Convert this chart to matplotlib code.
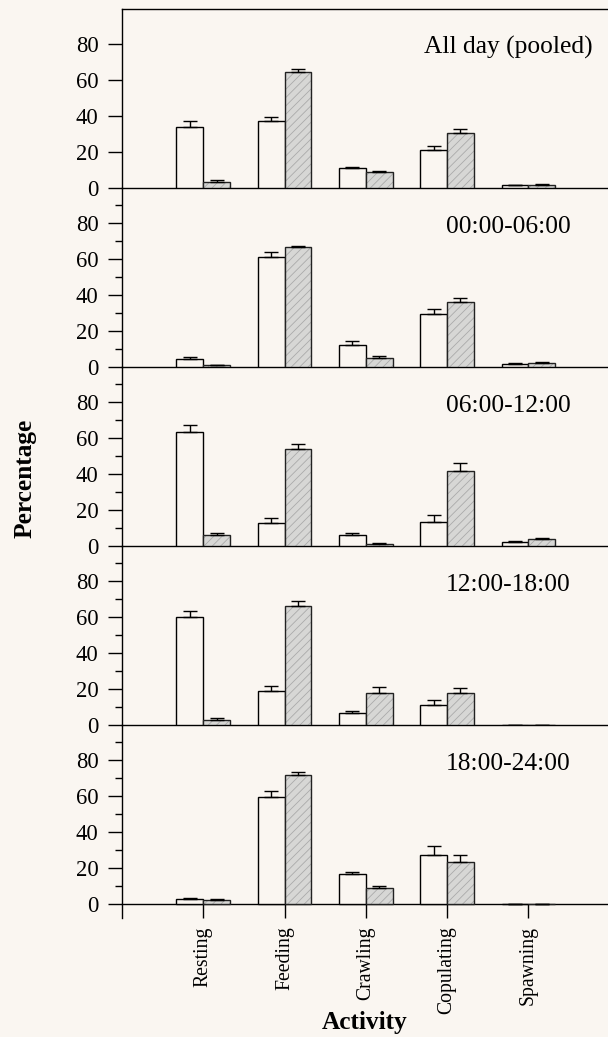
import numpy as np
import matplotlib
matplotlib.use("Agg")
import matplotlib.pyplot as plt

plt.rcParams['font.family'] = ['Liberation Serif', 'DejaVu Serif']
plt.rcParams['hatch.linewidth'] = 0.6

# activity categories and time periods
categories = ['Resting', 'Feeding', 'Crawling', 'Copulating', 'Spawning']
periods = ['All day (pooled)', '00:00-06:00', '06:00-12:00', '12:00-18:00', '18:00-24:00']

# white bars (first group): mean and SE, one row per period
white_mean = [[34.0, 37.4, 10.9, 21.1, 1.5],
              [4.4, 60.9, 12.4, 29.4, 1.9],
              [63.5, 13.0, 6.1, 13.5, 2.4],
              [60.0, 19.0, 6.8, 11.0, 0.0],
              [2.8, 59.4, 16.7, 27.4, 0.0]]
white_err = [[3.2, 2.0, 0.9, 2.2, 0.3],
             [1.3, 2.8, 1.9, 2.8, 0.3],
             [3.9, 2.5, 1.3, 3.7, 0.6],
             [3.5, 2.5, 1.0, 3.1, 0.0],
             [0.7, 3.4, 1.2, 4.6, 0.0]]

# hatched grey bars (second group)
grey_mean = [[3.5, 64.6, 8.9, 30.7, 1.8],
             [0.9, 66.5, 5.2, 36.1, 2.2],
             [6.0, 53.9, 1.1, 41.9, 3.7],
             [3.0, 66.0, 18.0, 18.0, 0.0],
             [2.0, 71.5, 8.7, 23.3, 0.0]]
grey_err = [[0.8, 1.3, 0.7, 1.9, 0.4],
            [0.3, 0.9, 0.9, 2.0, 0.8],
            [1.5, 2.8, 0.3, 4.1, 0.9],
            [1.0, 3.0, 3.2, 2.8, 0.0],
            [0.6, 1.6, 1.3, 3.7, 0.0]]

bg = '#faf6f1'
W, H = 608, 1037
fig = plt.figure(figsize=(W / 100, H / 100), dpi=100, facecolor=bg)

x = np.arange(1, len(categories) + 1)
bw = 0.33
left_px = 122
panel_px = 179
first_zero = 188

for i in range(len(periods)):
    last = i == len(periods) - 1
    zero_px = first_zero + panel_px * i
    top_px = zero_px - panel_px
    bottom_px = zero_px + (14 if last else 0)
    ax = fig.add_axes([left_px / W, 1 - bottom_px / H, 1 - left_px / W, (bottom_px - top_px) / H])
    ax.set_facecolor('none')

    # spines first (set_position resets tick settings)
    for s in ax.spines.values():
        s.set_linewidth(1.0)
    ax.spines['right'].set_visible(False)
    ax.spines['bottom'].set_position(('data', 0))
    if i > 0:
        ax.spines['top'].set_visible(False)

    wm = np.array(white_mean[i])
    we = np.array(white_err[i])
    gm = np.array(grey_mean[i])
    ge = np.array(grey_err[i])

    # white bars
    ax.bar(x - bw / 2, wm, bw, color=bg, edgecolor='black', linewidth=1.0, zorder=3)
    # grey hatched bars: fill + hatch first, then black outline
    ax.bar(x + bw / 2, gm, bw, color='#d7d7d5', edgecolor='#aaaaaa', hatch='////', linewidth=0, zorder=3)
    ax.bar(x + bw / 2, gm, bw, fill=False, edgecolor='#222222', linewidth=1.0, zorder=4)
    # one-sided error bars
    ax.errorbar(x - bw / 2, wm, yerr=[np.zeros_like(we), we], fmt='none', ecolor='black',
                elinewidth=1.0, capsize=5, capthick=1.0, zorder=5)
    ax.errorbar(x + bw / 2, gm, yerr=[np.zeros_like(ge), ge], fmt='none', ecolor='black',
                elinewidth=1.0, capsize=5, capthick=1.0, zorder=5)

    ax.set_yticks([0, 20, 40, 60, 80])
    if i > 0:
        ax.set_yticks([10, 30, 50, 70, 90], minor=True)
    ax.tick_params(axis='y', which='major', direction='out', length=10, width=1.0,
                   pad=7, labelsize=16.3)
    ax.tick_params(axis='y', which='minor', direction='out', length=5, width=1.0)

    if last:
        ax.set_xticks(x)
        ax.set_xticklabels(categories, rotation=90, fontsize=14.2)
        ax.tick_params(axis='x', direction='out', length=10, width=1.0, pad=6)
    else:
        ax.set_xticks([])

    ax.set_xlim(0, 5.98)
    if last:
        ax.set_ylim(-14 / 1.8, 99.5)
    else:
        ax.set_ylim(0, 99.5)

    ax.text(4.75, 78, periods[i], ha='center', va='center', fontsize=18.4)

fig.text(25 / W, 1 - 478 / H, 'Percentage', rotation=90, ha='center', va='center',
         fontsize=18.3, fontweight='bold')
fig.text(365 / W, 1 - 1022 / H, 'Activity', ha='center', va='center',
         fontsize=18.3, fontweight='bold')

fig.savefig('out.png', dpi=100, facecolor=bg)
